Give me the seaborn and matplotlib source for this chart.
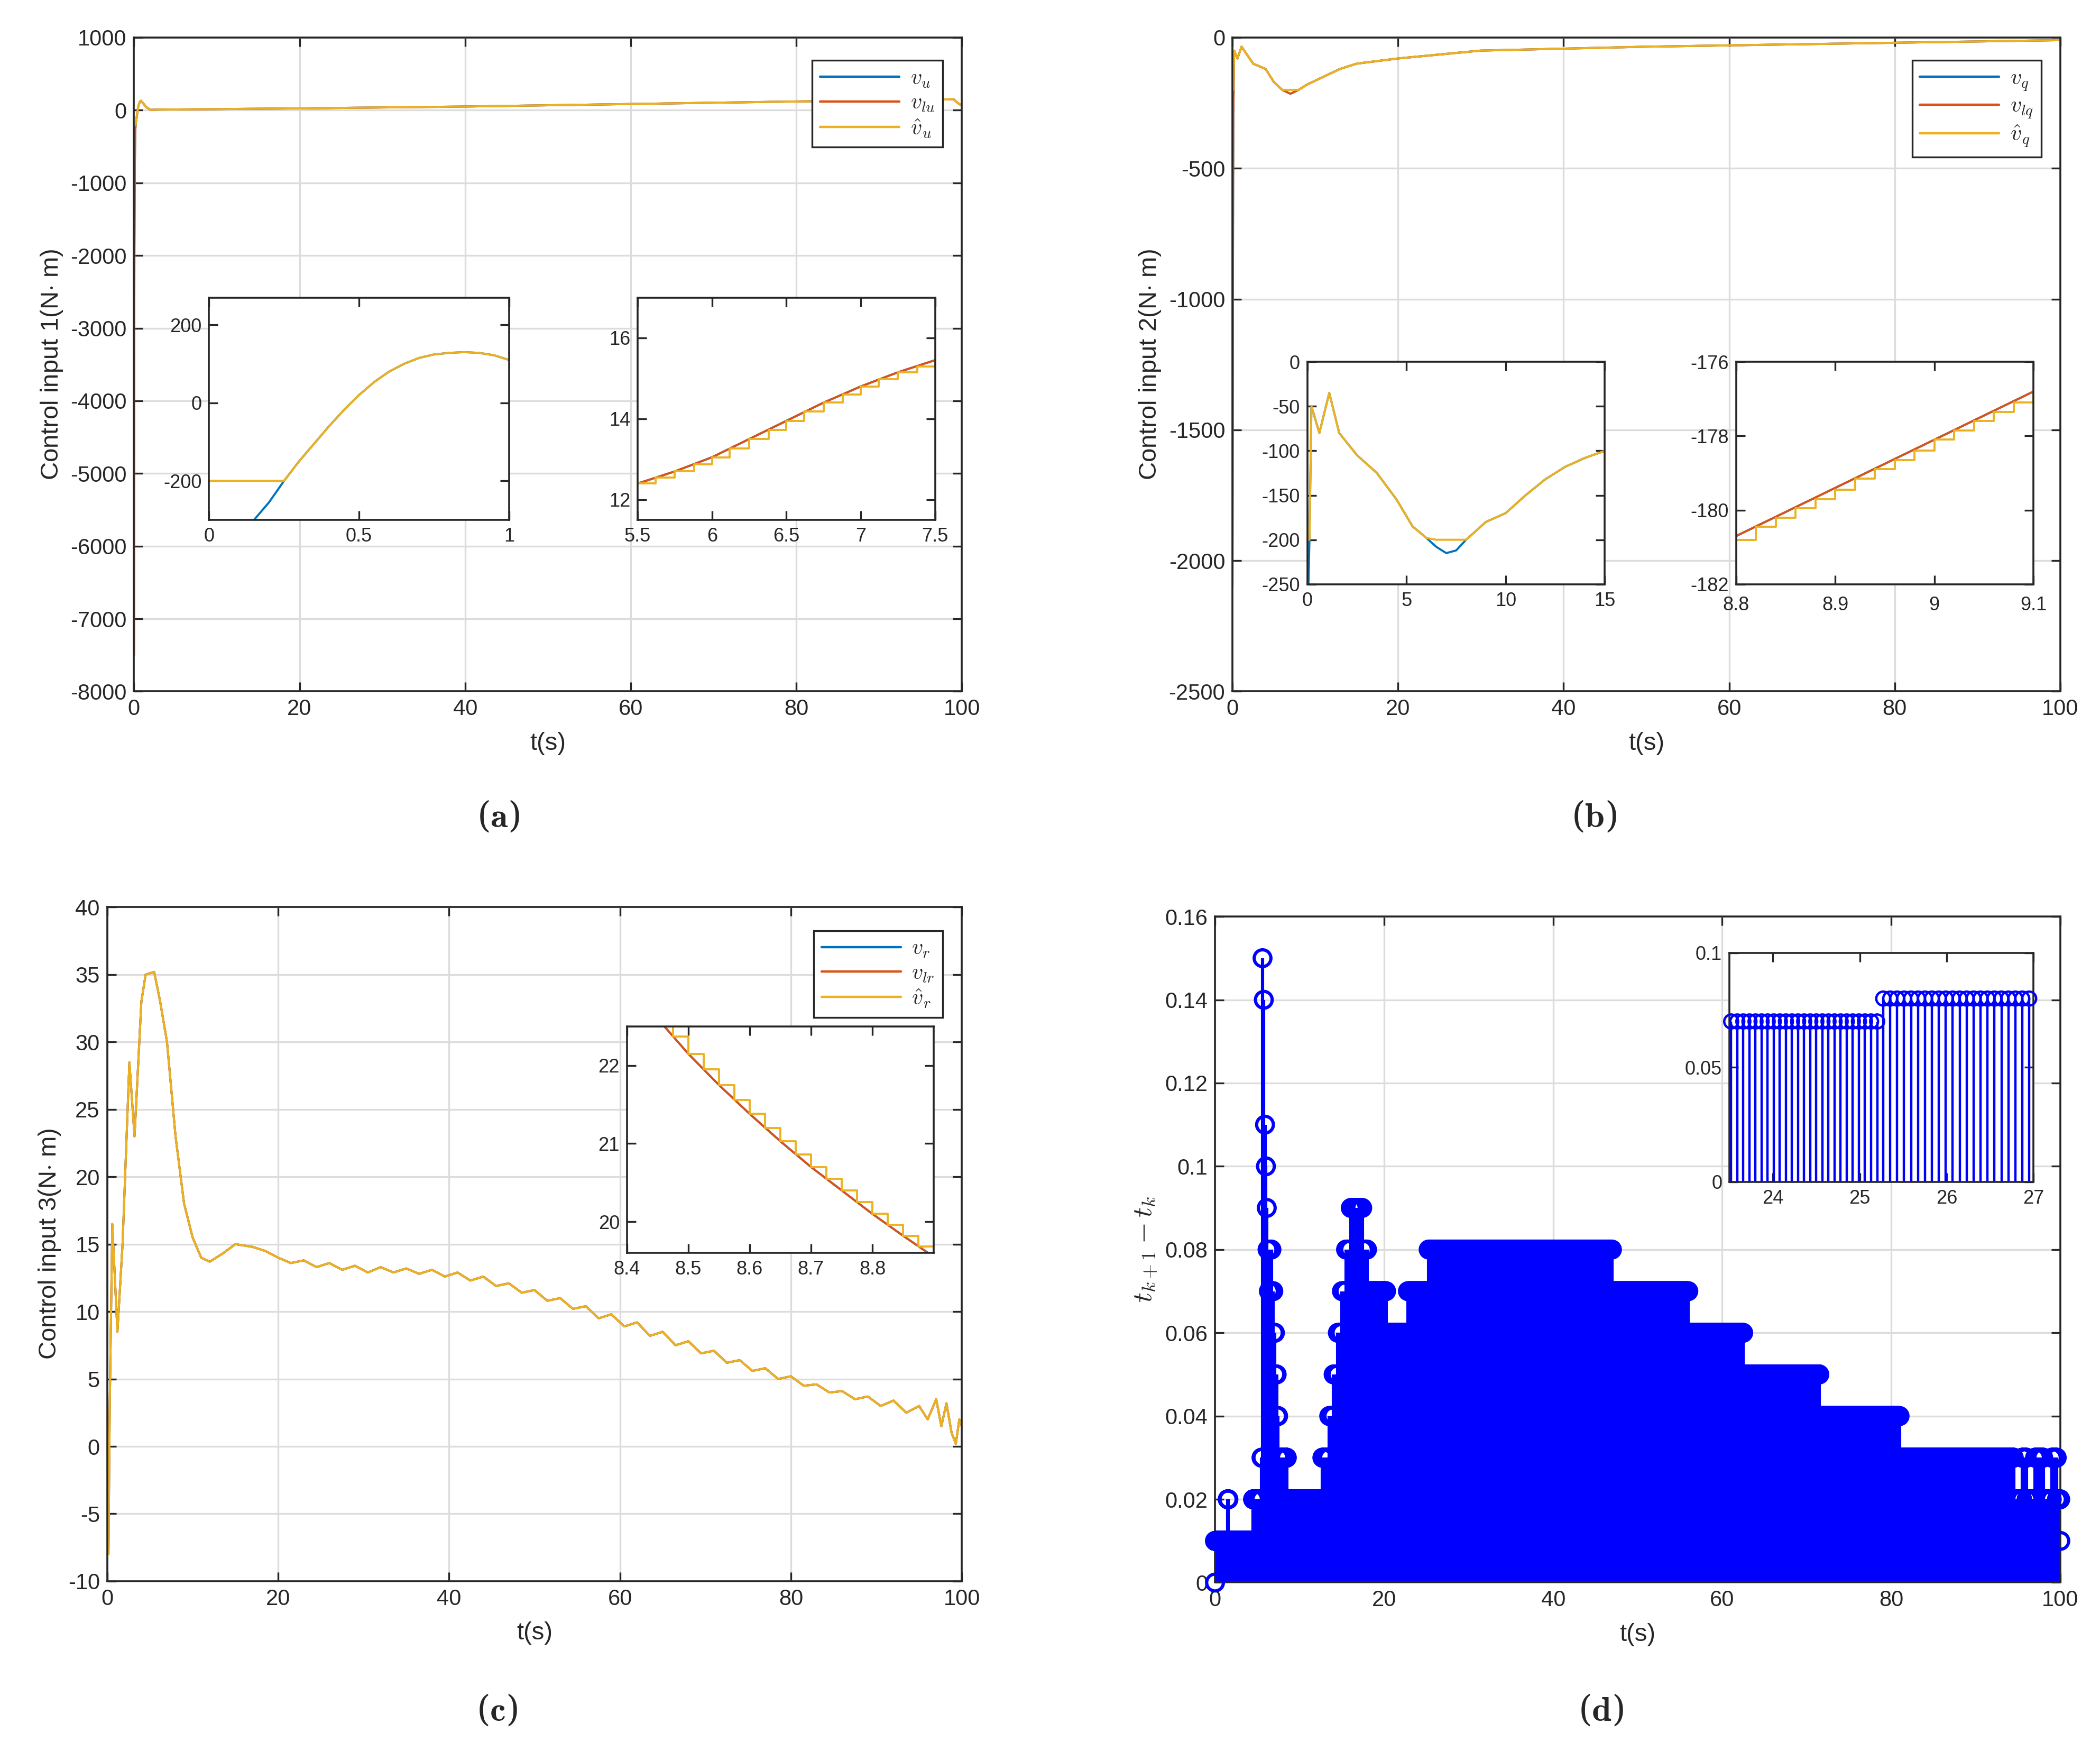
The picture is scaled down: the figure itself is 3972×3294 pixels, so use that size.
import numpy as np
import pandas as pd
import matplotlib
matplotlib.use("Agg")
import matplotlib.pyplot as plt
import seaborn as sns

BLUE, RED, YEL = "#0072BD", "#D95319", "#EDB120"

# ---------------- (a) data ----------------
a_t = [0, 0.02, 0.05, 0.1, 0.15, 0.2, 0.3, 0.5, 0.7, 0.85, 1.0, 1.5, 2.0, 3, 5, 10, 20, 40, 60, 80, 99, 99.5, 100]
a_v = [-7500, -4500, -2000, -800, -300, -200, -120, 40, 115, 130, 110, 40, 5, 8, 10, 15, 25, 50, 85, 120, 150, 100, 60]
a_vh = [-200, -200, -200, -200, -200, -200, -120, 40, 115, 130, 110, 40, 5, 8, 10, 15, 25, 50, 85, 120, 150, 100, 60]
a_in1_t = [0.0, 0.15, 0.2, 0.25, 0.3, 0.35, 0.4, 0.45, 0.5, 0.55, 0.6, 0.65, 0.7, 0.75, 0.8, 0.85, 0.9, 0.95, 1.0]
a_in1_v = [-400, -300, -255, -200, -150, -105, -60, -18, 20, 53, 80, 100, 115, 124, 128, 130, 128, 122, 110]
a_in1_h = [-200, -200, -200, -200, -150, -105, -60, -18, 20, 53, 80, 100, 115, 124, 128, 130, 128, 122, 110]
a_in2_t = [5.5, 5.75, 6.0, 6.25, 6.5, 6.75, 7.0, 7.25, 7.5]
a_in2_v = [12.4, 12.7, 13.05, 13.5, 13.95, 14.4, 14.8, 15.15, 15.45]
a_st_t = [5.5, 5.62, 5.75, 5.88, 6.0, 6.12, 6.25, 6.38, 6.5, 6.62, 6.75, 6.88, 7.0, 7.12, 7.25, 7.38, 7.5]
a_st_v = [12.4, 12.55, 12.7, 12.88, 13.05, 13.27, 13.5, 13.72, 13.95, 14.18, 14.4, 14.6, 14.8, 14.98, 15.15, 15.3, 15.45]

# ---------------- (b) data ----------------
b_t = [0, 0.05, 0.1, 0.2, 0.6, 1.1, 2.5, 4, 5, 6, 7, 8, 9, 11, 13, 15, 20, 30, 50, 80, 100]
b_v = [-2100, -1000, -300, -50, -80, -35, -100, -120, -170, -200, -215, -200, -180, -150, -120, -100, -80, -50, -35, -20, -10]
b_vh = [-200, -200, -200, -50, -80, -35, -100, -120, -170, -200, -200, -200, -180, -150, -120, -100, -80, -50, -35, -20, -10]
b_in1_t = [0, 0.05, 0.1, 0.2, 0.6, 1.1, 1.6, 2.5, 3.5, 4.5, 5.3, 6.0, 6.5, 7.0, 7.5, 8.0, 9.0, 10.0, 11.0, 12.0, 13.0, 14.0, 15.0]
b_in1_v = [-400, -250, -200, -50, -80, -35, -80, -105, -125, -155, -185, -198, -208, -215, -212, -200, -180, -170, -150, -132, -118, -108, -100]
b_in1_h = [-200, -200, -200, -50, -80, -35, -80, -105, -125, -155, -185, -198, -200, -200, -200, -200, -180, -170, -150, -132, -118, -108, -100]
b_in2_t = [8.8, 9.1]
b_in2_v = [-180.7, -176.8]
b_st_t = [8.8, 8.82, 8.84, 8.86, 8.88, 8.90, 8.92, 8.94, 8.96, 8.98, 9.0, 9.02, 9.04, 9.06, 9.08, 9.1]
b_st_v = [-180.8, -180.45, -180.2, -179.95, -179.7, -179.45, -179.15, -178.9, -178.65, -178.4, -178.1, -177.85, -177.6, -177.35, -177.1, -176.8]

# ---------------- (c) data ----------------
c_t = [0, 0.15, 0.3, 0.6, 1.2, 1.8, 2.6, 3.2, 4.0, 4.5, 5.5, 6.2, 7.0, 8.0, 9.0, 10.0, 11.0, 12.0, 13.5, 15.0, 17.0, 18.5, 20.0, 21.5,
       23.0, 24.5, 26.0, 27.5, 29.0, 30.5, 32.0, 33.5, 35.0, 36.5, 38.0, 39.5, 41.0, 42.5, 44.0, 45.5, 47.0, 48.5, 50.0, 51.5,
       53.0, 54.5, 56.0, 57.5, 59.0, 60.5, 62.0, 63.5, 65.0, 66.5, 68.0, 69.5, 71.0, 72.5, 74.0, 75.5, 77.0, 78.5, 80.0, 81.5,
       83.0, 84.5, 86.0, 87.5, 89.0, 90.5, 92.0, 93.5, 95.0, 96.0, 97.0, 97.6, 98.2, 98.8, 99.3, 99.7, 100]
c_v = [2.5, -8, 3, 16.5, 8.5, 15, 28.5, 23, 33, 35, 35.2, 33, 30, 23, 18, 15.5, 14, 13.7, 14.3, 15, 14.8, 14.5, 14.0, 13.6,
       13.8, 13.3, 13.6, 13.1, 13.4, 12.9, 13.3, 12.9, 13.2, 12.8, 13.1, 12.6, 12.9, 12.3, 12.6, 11.9, 12.1, 11.4, 11.6, 10.8,
       11.0, 10.2, 10.4, 9.5, 9.8, 8.9, 9.2, 8.2, 8.5, 7.5, 7.8, 6.9, 7.1, 6.2, 6.4, 5.6, 5.8, 5.0, 5.2, 4.5, 4.6, 4.0, 4.1, 3.5,
       3.7, 3.0, 3.4, 2.5, 3.0, 2.0, 3.5, 1.5, 3.2, 1.0, 0.2, 2.0, 1.5]
c_in_t = [8.45, 8.5, 8.55, 8.6, 8.65, 8.7, 8.75, 8.8, 8.85, 8.9]
c_in_v = [22.6, 22.15, 21.75, 21.38, 21.03, 20.7, 20.4, 20.1, 19.82, 19.55]
c_st_t = [8.45, 8.475, 8.5, 8.525, 8.55, 8.575, 8.6, 8.625, 8.65, 8.675, 8.7, 8.725, 8.75, 8.775, 8.8, 8.825, 8.85, 8.875, 8.9]
c_st_v = [22.6, 22.37, 22.15, 21.95, 21.75, 21.56, 21.38, 21.2, 21.03, 20.86, 20.7, 20.55, 20.4, 20.25, 20.1, 19.96, 19.82, 19.68, 19.55]

# ---------------- (d) data: (segment end time, inter-event interval) ----------------
d_seg_end = [1.5, 1.6, 4.5, 5.5, 5.6, 5.75, 5.9, 6.0, 6.1, 6.2, 6.35, 6.5, 6.7, 6.9, 7.1, 7.3, 7.5, 8.0, 8.3, 8.5, 12.7,
             13.5, 14.0, 14.5, 15.0, 15.5, 16.0, 17.5, 18.0, 19.3, 20.3, 22.8, 25.25, 47.0, 56.0, 62.5, 71.5, 81.0,
             94.5, 95.5, 96.0, 97.0, 98.0, 99.0, 99.6, 100.0]
d_seg_dt = [0.01, 0.02, 0.01, 0.02, 0.03, 0.15, 0.14, 0.11, 0.10, 0.09, 0.08, 0.07, 0.08, 0.07, 0.06, 0.05, 0.04, 0.03,
            0.02, 0.03, 0.02, 0.03, 0.04, 0.05, 0.06, 0.07, 0.08, 0.09, 0.08, 0.07, 0.07, 0.06, 0.07, 0.08, 0.07, 0.06,
            0.05, 0.04, 0.03, 0.02, 0.03, 0.02, 0.03, 0.02, 0.03, 0.02]

# ---------------- styling ----------------
sns.set_theme(style="ticks", rc={"font.family": "Liberation Sans", "axes.unicode_minus": False})
plt.rcParams["mathtext.fontset"] = "cm"
fig = plt.figure(figsize=(19.865, 16.47), dpi=200)
TICK = 15
LAB = 17


def style(ax, fs=TICK, grid=True):
    ax.tick_params(direction="in", top=True, right=True, labelsize=fs, length=6, width=1.2, colors="#262626", pad=5)
    for s in ax.spines.values():
        s.set_linewidth(1.3)
        s.set_color("#262626")
    if grid:
        ax.grid(True, color="#dcdcdc", linewidth=1.2)
        ax.set_axisbelow(True)


def line(ax, x, y, c, lw=1.4, **kw):
    sns.lineplot(x=x, y=y, ax=ax, color=c, linewidth=lw, sort=False, estimator=None, **kw)


def legend(ax, labels):
    hs = [plt.Line2D([], [], color=c, lw=1.6) for c in (BLUE, RED, YEL)]
    lg = ax.legend(hs, labels, loc="upper right", fontsize=15, handlelength=3.6, frameon=True, fancybox=False,
                   borderaxespad=0.3, labelspacing=0.15, borderpad=0.35, handletextpad=0.5,
                   bbox_to_anchor=(0.985, 0.975))
    lg.get_frame().set_edgecolor("#262626")
    lg.get_frame().set_linewidth(1.2)
    lg.get_frame().set_alpha(1)
    lg.set_zorder(20)


def stepline(ax, x, y, c, lw=1.4):
    ax.plot(x, y, color=c, linewidth=lw, drawstyle="steps-post")


W, H = 1568.0, 1300.0


def axes_px(x0, y0, x1, y1):
    return fig.add_axes([x0 / W, 1 - y1 / H, (x1 - x0) / W, (y1 - y0) / H])


def xl(ax, t):
    ax.set_xlabel(t, fontsize=LAB, labelpad=8)


# ---------- (a) ----------
ax = axes_px(100, 28, 718, 516)
style(ax)
line(ax, a_t, a_v, BLUE)
line(ax, a_t, a_v, RED)
line(ax, a_t, a_vh, YEL)
ax.set_xlim(0, 100); ax.set_ylim(-8000, 1000)
ax.set_xticks(range(0, 101, 20)); ax.set_yticks(range(-8000, 1001, 1000))
xl(ax, "t(s)"); ax.set_ylabel(r"Control input 1(N$\cdot$ m)", fontsize=LAB)
legend(ax, [r"$v_u$", r"$v_{lu}$", r"$\hat{v}_u$"])

ia = axes_px(156, 222, 380, 388)
style(ia, 13, grid=False)
line(ia, a_in1_t, a_in1_v, BLUE)
line(ia, a_in1_t, a_in1_h, YEL)
ia.set_xlim(0, 1); ia.set_ylim(-300, 270)
ia.set_xticks([0, 0.5, 1]); ia.set_xticklabels(["0", "0.5", "1"]); ia.set_yticks([-200, 0, 200])

ib = axes_px(476, 222, 698, 388)
style(ib, 13, grid=False)
line(ib, a_in2_t, a_in2_v, BLUE)
line(ib, a_in2_t, a_in2_v, RED)
stepline(ib, a_st_t, a_st_v, YEL)
ib.set_xlim(5.5, 7.5); ib.set_ylim(11.5, 17)
ib.set_xticks([5.5, 6, 6.5, 7, 7.5]); ib.set_xticklabels(["5.5", "6", "6.5", "7", "7.5"]); ib.set_yticks([12, 14, 16])

# ---------- (b) ----------
ax = axes_px(920, 28, 1538, 516)
style(ax)
line(ax, b_t, b_v, BLUE)
line(ax, b_t, b_v, RED)
line(ax, b_t, b_vh, YEL)
ax.set_xlim(0, 100); ax.set_ylim(-2500, 0)
ax.set_xticks(range(0, 101, 20)); ax.set_yticks(range(-2500, 1, 500))
xl(ax, "t(s)"); ax.set_ylabel(r"Control input 2(N$\cdot$ m)", fontsize=LAB)
legend(ax, [r"$v_q$", r"$v_{lq}$", r"$\hat{v}_q$"])

ia = axes_px(976, 270, 1198, 436)
style(ia, 13, grid=False)
line(ia, b_in1_t, b_in1_v, BLUE)
line(ia, b_in1_t, b_in1_h, YEL)
ia.set_xlim(0, 15); ia.set_ylim(-250, 0)
ia.set_xticks([0, 5, 10, 15]); ia.set_yticks(range(-250, 1, 50))

ib = axes_px(1296, 270, 1518, 436)
style(ib, 13, grid=False)
ib.tick_params(axis="x", pad=8)
line(ib, b_in2_t, b_in2_v, BLUE)
line(ib, b_in2_t, b_in2_v, RED)
stepline(ib, b_st_t, b_st_v, YEL)
ib.set_xlim(8.8, 9.1); ib.set_ylim(-182, -176)
ib.set_xticks([8.8, 8.9, 9, 9.1]); ib.set_xticklabels(["8.8", "8.9", "9", "9.1"]); ib.set_yticks(range(-182, -175, 2))

# ---------- (c) ----------
ax = axes_px(80, 677, 718, 1180)
style(ax)
line(ax, c_t, c_v, BLUE)
line(ax, c_t, c_v, RED)
line(ax, c_t, c_v, YEL)
ax.set_xlim(0, 100); ax.set_ylim(-10, 40)
ax.set_xticks(range(0, 101, 20)); ax.set_yticks(range(-10, 41, 5))
xl(ax, "t(s)"); ax.set_ylabel(r"Control input 3(N$\cdot$ m)", fontsize=LAB)
legend(ax, [r"$v_r$", r"$v_{lr}$", r"$\hat{v}_r$"])

ic = axes_px(468, 766, 697, 935)
style(ic, 13, grid=False)
line(ic, c_in_t, c_in_v, BLUE)
line(ic, c_in_t, c_in_v, RED)
stepline(ic, c_st_t, c_st_v, YEL)
ic.set_xlim(8.4, 8.9); ic.set_ylim(19.6, 22.5)
ic.set_xticks([8.4, 8.5, 8.6, 8.7, 8.8]); ic.set_yticks([20, 21, 22])

# ---------- (d) ----------
ev_t, ev_v = [0.0], [0.0]
t = 0.0
for end, dt in zip(d_seg_end, d_seg_dt):
    while t < end - 1e-9:
        ev_t.append(t); ev_v.append(dt)
        t = round(t + dt, 6)
ev_t.append(100.0); ev_v.append(0.01)
dfd = pd.DataFrame({"t": ev_t, "v": ev_v})

ax = axes_px(907, 684, 1538, 1181)
style(ax)
ax.vlines(dfd.t, 0, dfd.v, color="blue", linewidth=2.2)
sns.scatterplot(data=dfd, x="t", y="v", ax=ax, marker="o", s=130, facecolors="none", edgecolor="blue", linewidth=2.2,
                zorder=3, clip_on=False)
ax.set_xlim(0, 100); ax.set_ylim(0, 0.16)
ax.set_xticks(range(0, 101, 20)); ax.set_yticks(np.arange(0, 0.161, 0.02))
ax.set_yticklabels(["0", "0.02", "0.04", "0.06", "0.08", "0.1", "0.12", "0.14", "0.16"])
xl(ax, "t(s)"); ax.set_ylabel(r"$\boldsymbol{t_{k+1}-t_k}$", fontsize=LAB + 2)

idd = axes_px(1291, 711, 1518, 882)
style(idd, 13, grid=False)
sub = dfd[(dfd.t >= 23.5) & (dfd.t <= 27)]
idd.vlines(sub.t, 0, sub.v, color="blue", linewidth=1.6)
sns.scatterplot(data=sub, x="t", y="v", ax=idd, marker="o", s=90, facecolors="none", edgecolor="blue", linewidth=1.6,
                zorder=3, clip_on=False)
idd.set_xlim(23.5, 27); idd.set_ylim(0, 0.1)
idd.set_xticks([24, 25, 26, 27]); idd.set_yticks([0, 0.05, 0.1]); idd.set_yticklabels(["0", "0.05", "0.1"])
idd.set_xlabel(""); idd.set_ylabel("")

for lab, x, y in [("a", 372, 610), ("b", 1190, 610), ("c", 371, 1277), ("d", 1195, 1277)]:
    fig.text(x / W, 1 - y / H, r"($\mathbf{%s}$)" % lab, fontsize=24, ha="center", va="center",
             family="DejaVu Serif")

fig.savefig("out.png", dpi=200)
